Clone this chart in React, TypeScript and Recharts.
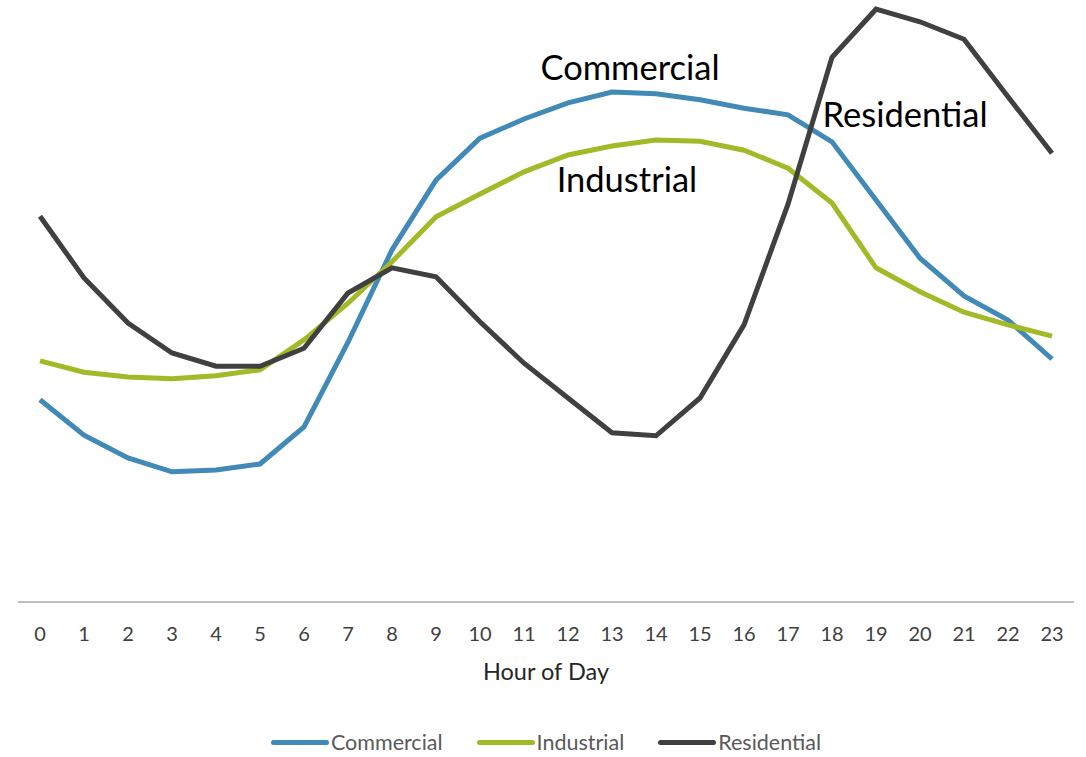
import { LineChart, Line, XAxis, YAxis, Legend, ReferenceDot } from 'recharts';

const hours = [0, 1, 2, 3, 4, 5, 6, 7, 8, 9, 10, 11, 12, 13, 14, 15, 16, 17, 18, 19, 20, 21, 22, 23];

const commercial = [33.7, 27.8, 24.0, 21.7, 22.0, 23.0, 29.2, 43.3, 58.7, 70.3, 77.3, 80.5, 83.2, 85.0, 84.7, 83.7, 82.3, 81.2, 76.7, 67.0, 57.3, 51.0, 47.0, 40.5];
const industrial = [40.2, 38.3, 37.5, 37.2, 37.7, 38.7, 43.7, 49.8, 56.7, 64.2, 68.0, 71.7, 74.5, 76.0, 77.0, 76.8, 75.3, 72.3, 66.5, 55.7, 51.7, 48.3, 46.2, 44.3];
const residential = [64.3, 54.0, 46.5, 41.5, 39.3, 39.3, 42.3, 51.5, 55.7, 54.2, 46.7, 39.8, 34.0, 28.2, 27.7, 34.0, 46.2, 66.3, 90.8, 98.8, 96.7, 93.8, 84.2, 74.8];

const data = hours.map((h, i) => ({
  hour: h,
  Commercial: commercial[i],
  Industrial: industrial[i],
  Residential: residential[i],
}));

const FONT = 'Lato, "Liberation Sans", sans-serif';

// direct labels placed in data space
const annotations = [
  { name: 'Commercial', x: 13.41, y: 89.0 },
  { name: 'Industrial', x: 13.34, y: 70.3 },
  { name: 'Residential', x: 19.66, y: 81.2 },
];

const renderLegend = (props: any) => {
  const { payload } = props;
  return (
    <div style={{ display: 'flex', justifyContent: 'center', alignItems: 'center', gap: 34, marginLeft: 0 }}>
      {payload.map((entry: any) => (
        <div key={entry.value} style={{ display: 'flex', alignItems: 'center' }}>
          <span style={{ display: 'inline-block', width: 58, height: 5, borderRadius: 3, background: entry.color }} />
          <span style={{ marginLeft: 2, fontFamily: FONT, fontSize: 21.5, color: '#595959' }}>{entry.value}</span>
        </div>
      ))}
    </div>
  );
};

export default function App() {
  return (
    <div style={{ position: 'absolute', left: 0, top: 0 }}>
      <LineChart width={1086} height={757} data={data} margin={{ top: 2, right: 12, bottom: 0, left: 18 }}>
        <XAxis
          type="number"
          dataKey="hour"
          domain={[-0.5, 23.5]}
          ticks={hours}
          interval={0}
          height={127}
          tickLine={false}
          tickSize={0}
          tickMargin={25}
          axisLine={{ stroke: '#BFBFBF', strokeWidth: 2 }}
          tick={{ fontFamily: FONT, fontSize: 20, fill: '#404040' }}
          label={{ value: 'Hour of Day', position: 'insideTop', offset: 61, fontFamily: FONT, fontSize: 23.5, fill: '#262626' }}
        />
        <YAxis hide domain={[0, 100]} />
        <Legend verticalAlign="bottom" height={28} content={renderLegend} />
        <Line type="linear" dataKey="Commercial" stroke="#4189B6" strokeWidth={5} dot={false} isAnimationActive={false} />
        <Line type="linear" dataKey="Industrial" stroke="#A2B928" strokeWidth={5} dot={false} isAnimationActive={false} />
        <Line type="linear" dataKey="Residential" stroke="#404040" strokeWidth={5} dot={false} isAnimationActive={false} />
        {annotations.map((a) => (
          <ReferenceDot
            key={a.name}
            x={a.x}
            y={a.y}
            r={0}
            ifOverflow="visible"
            label={{ value: a.name, position: 'center', fontFamily: FONT, fontSize: 34.5, fill: '#000000' }}
          />
        ))}
      </LineChart>
    </div>
  );
}
